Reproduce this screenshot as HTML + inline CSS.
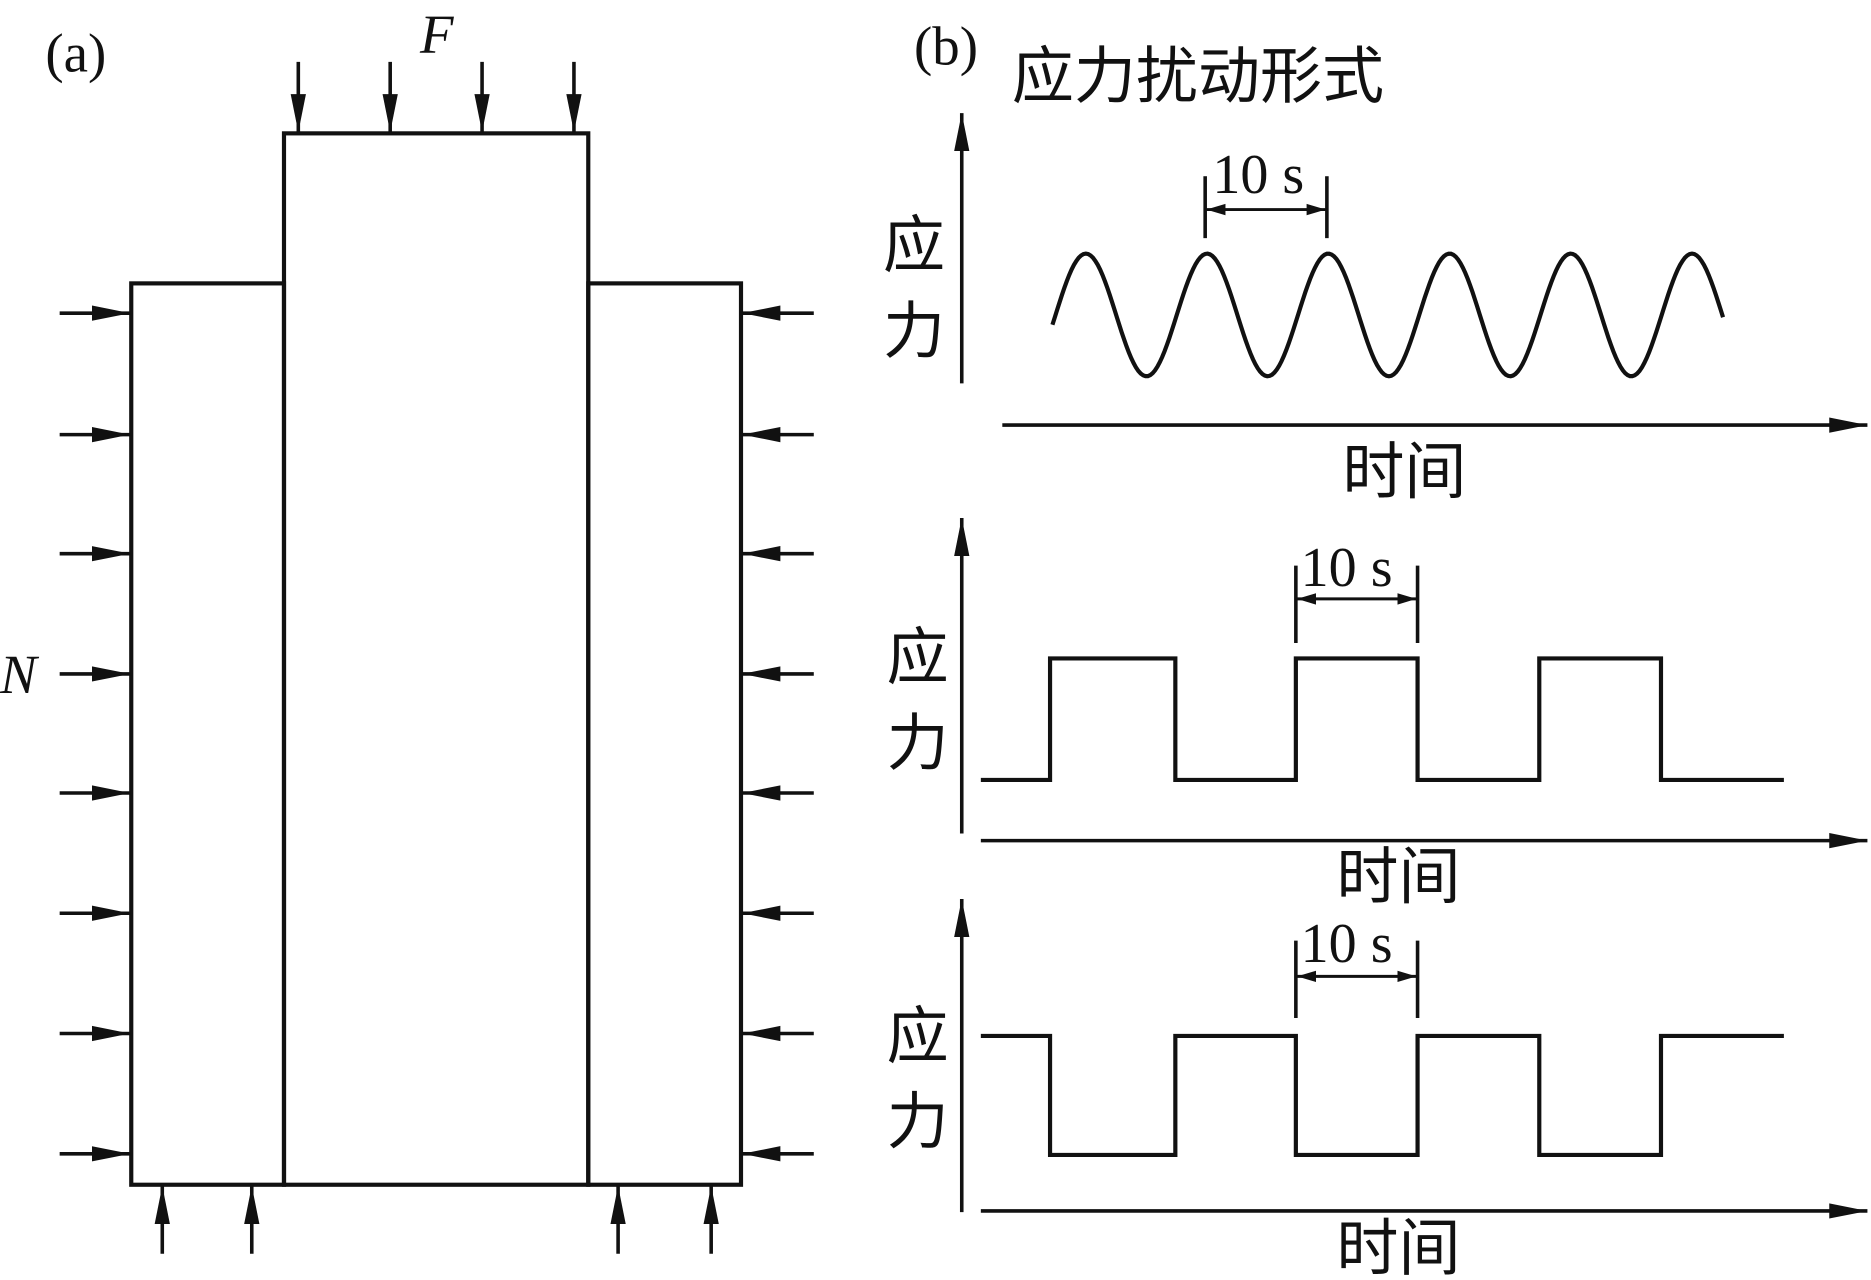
<!DOCTYPE html>
<html><head><meta charset="utf-8"><style>html,body{margin:0;padding:0;background:#fff}svg{display:block}</style></head>
<body>
<svg width="1871" height="1280" viewBox="0 0 1568 1075" preserveAspectRatio="none" xmlns="http://www.w3.org/2000/svg">
<defs>
<marker id="ah" viewBox="0 0 10 10" refX="10" refY="5" markerWidth="16" markerHeight="12" markerUnits="userSpaceOnUse" orient="auto-start-reverse" preserveAspectRatio="none"><path d="M0,1 L10,5 L0,9 Z" fill="#111"/></marker>
<marker id="ab" viewBox="0 0 10 10" refX="10" refY="5" markerWidth="32" markerHeight="16" markerUnits="userSpaceOnUse" orient="auto-start-reverse" preserveAspectRatio="none"><path d="M0,1 L10,5 L0,9 Z" fill="#111"/></marker>
</defs>
<g fill="none" stroke="#111" stroke-width="3.5">
<rect x="238" y="112" width="255" height="883"/>
<rect x="110" y="238" width="128" height="757"/>
<rect x="493" y="238" width="128" height="757"/>
</g>
<g stroke="#111" stroke-width="3" marker-end="url(#ab)">
<line x1="250" y1="52" x2="250" y2="111"/><line x1="327" y1="52" x2="327" y2="111"/>
<line x1="404" y1="52" x2="404" y2="111"/><line x1="481" y1="52" x2="481" y2="111"/>
<line x1="50" y1="263" x2="109" y2="263"/><line x1="50" y1="365" x2="109" y2="365"/>
<line x1="50" y1="465" x2="109" y2="465"/><line x1="50" y1="566" x2="109" y2="566"/>
<line x1="50" y1="666" x2="109" y2="666"/><line x1="50" y1="767" x2="109" y2="767"/>
<line x1="50" y1="868" x2="109" y2="868"/><line x1="50" y1="969" x2="109" y2="969"/>
<line x1="682" y1="263" x2="622" y2="263"/><line x1="682" y1="365" x2="622" y2="365"/>
<line x1="682" y1="465" x2="622" y2="465"/><line x1="682" y1="566" x2="622" y2="566"/>
<line x1="682" y1="666" x2="622" y2="666"/><line x1="682" y1="767" x2="622" y2="767"/>
<line x1="682" y1="868" x2="622" y2="868"/><line x1="682" y1="969" x2="622" y2="969"/>
<line x1="136" y1="1053" x2="136" y2="996"/><line x1="211" y1="1053" x2="211" y2="996"/>
<line x1="518" y1="1053" x2="518" y2="996"/><line x1="596" y1="1053" x2="596" y2="996"/>
<line x1="806" y1="322" x2="806" y2="95"/><line x1="840" y1="357" x2="1565" y2="357"/>
<line x1="806" y1="700" x2="806" y2="435"/><line x1="822" y1="706" x2="1565" y2="706"/>
<line x1="806" y1="1018" x2="806" y2="755"/><line x1="822" y1="1017" x2="1565" y2="1017"/>
</g>
<g stroke="#111" stroke-width="2.5" marker-start="url(#ah)" marker-end="url(#ah)">
<line x1="1011" y1="176" x2="1111" y2="176"/>
<line x1="1087" y1="503" x2="1187" y2="503"/>
<line x1="1087" y1="820" x2="1187" y2="820"/>
</g>
<g stroke="#111" stroke-width="3">
<line x1="1010" y1="148" x2="1010" y2="200"/><line x1="1112" y1="148" x2="1112" y2="200"/>
<line x1="1086" y1="475" x2="1086" y2="540"/><line x1="1188" y1="475" x2="1188" y2="540"/>
<line x1="1086" y1="790" x2="1086" y2="855"/><line x1="1188" y1="790" x2="1188" y2="855"/>
</g>
<g fill="none" stroke="#111" stroke-width="3.5">
<path id="sine" d=""/>
<polyline points="822,655 880,655 880,553 985,553 985,655 1086,655 1086,553 1188,553 1188,655 1290,655 1290,553 1392,553 1392,655 1495,655"/>
<polyline points="822,870 880,870 880,970 985,970 985,870 1086,870 1086,970 1188,970 1188,870 1290,870 1290,970 1392,970 1392,870 1495,870"/>
</g>
<g font-family="Liberation Serif, serif" fill="#111">
<text x="38" y="60" font-size="46">(a)</text>
<text x="352" y="44" font-size="46" font-style="italic">F</text>
<text x="0" y="582" font-size="46" font-style="italic">N</text>
<text x="766" y="54" font-size="46">(b)</text>
<text x="1016" y="162" font-size="47">10 s</text>
<text x="1090" y="492" font-size="47">10 s</text>
<text x="1090" y="808" font-size="47">10 s</text>
</g>
<g font-family="Liberation Sans, 'Noto Sans CJK SC', sans-serif" fill="#111" font-size="52">
<text x="848" y="82">应力扰动形式</text>
<text x="740" y="224">应</text><text x="740" y="296">力</text>
<text x="1125" y="414">时间</text>
<text x="743" y="570">应</text><text x="743" y="642">力</text>
<text x="1120" y="754">时间</text>
<text x="743" y="888">应</text><text x="743" y="960">力</text>
<text x="1120" y="1066">时间</text>
</g>
<script>
var d="",T=101.6,x0=910-T/4;
for(var x=882;x<=1445;x+=2){var y=264.5-51.5*Math.sin(2*Math.PI*(x-x0)/T);d+=(x==882?"M":"L")+x+","+y.toFixed(1);}
document.getElementById("sine").setAttribute("d",d);
</script>
</svg>
</body></html>
